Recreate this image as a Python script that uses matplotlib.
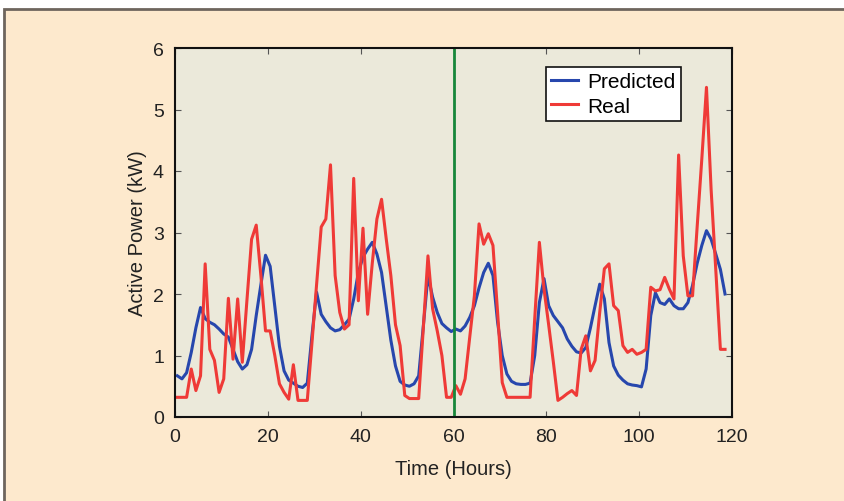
import numpy as np
import matplotlib
matplotlib.use("Agg")
import matplotlib.pyplot as plt
from matplotlib.patches import Rectangle

plt.rcParams["font.family"] = ["Liberation Sans", "DejaVu Sans"]

# hourly readings, first sample at half past hour 0
real = [
    0.32, 0.32, 0.32, 0.78, 0.43, 0.67, 2.49, 1.10, 0.92, 0.40,
    0.62, 1.93, 0.94, 1.92, 0.89, 1.90, 2.89, 3.12, 2.30, 1.40,
    1.40, 1.00, 0.54, 0.40, 0.29, 0.85, 0.27, 0.27, 0.27, 1.20,
    2.15, 3.09, 3.22, 4.10, 2.30, 1.70, 1.43, 1.50, 3.88, 1.89,
    3.07, 1.67, 2.50, 3.22, 3.54, 2.90, 2.30, 1.50, 1.16, 0.35,
    0.30, 0.30, 0.30, 1.45, 2.62, 1.76, 1.40, 1.00, 0.32, 0.32,
    0.51, 0.37, 0.62, 1.30, 1.97, 3.14, 2.81, 2.98, 2.79, 1.70,
    0.56, 0.32, 0.32, 0.32, 0.32, 0.32, 0.32, 1.60, 2.84, 2.08,
    1.50, 0.90, 0.27, 0.32, 0.38, 0.43, 0.35, 1.10, 1.32, 0.75,
    0.92, 1.70, 2.41, 2.49, 1.81, 1.73, 1.16, 1.05, 1.10, 1.02,
    1.05, 1.10, 2.11, 2.05, 2.07, 2.27, 2.08, 1.92, 4.26, 2.62,
    1.97, 1.97, 3.10, 4.20, 5.36, 3.70, 2.40, 1.10, 1.10,
]
predicted = [
    0.67, 0.62, 0.72, 1.05, 1.45, 1.78, 1.60, 1.54, 1.50, 1.43,
    1.35, 1.30, 1.10, 0.90, 0.78, 0.85, 1.10, 1.65, 2.15, 2.63,
    2.45, 1.80, 1.15, 0.75, 0.60, 0.55, 0.50, 0.48, 0.55, 1.32,
    2.03, 1.67, 1.55, 1.45, 1.40, 1.42, 1.50, 1.59, 1.92, 2.35,
    2.60, 2.73, 2.84, 2.65, 2.35, 1.80, 1.25, 0.83, 0.58, 0.52,
    0.50, 0.54, 0.67, 1.48, 2.30, 1.95, 1.70, 1.52, 1.45, 1.39,
    1.43, 1.40, 1.48, 1.62, 1.81, 2.10, 2.35, 2.50, 2.30, 1.54,
    1.00, 0.70, 0.58, 0.54, 0.53, 0.53, 0.55, 1.00, 1.86, 2.25,
    1.81, 1.65, 1.55, 1.45, 1.27, 1.15, 1.06, 1.04, 1.13, 1.45,
    1.81, 2.16, 1.92, 1.21, 0.83, 0.68, 0.60, 0.54, 0.52, 0.51,
    0.49, 0.78, 1.65, 2.02, 1.86, 1.83, 1.92, 1.81, 1.76, 1.76,
    1.86, 2.14, 2.50, 2.79, 3.03, 2.89, 2.65, 2.40, 2.00,
]
hours = np.arange(len(real)) + 0.5
split_hour = 60

fig = plt.figure(figsize=(8.44, 5.02), dpi=100, facecolor="white")
fig.patches.append(Rectangle((4 / 844, -0.1), 1.2, 1.1 - 10 / 502,
                             transform=fig.transFigure, facecolor="#fde9cd",
                             edgecolor="#6e655d", linewidth=2, zorder=-1))

ax = fig.add_axes([175 / 844, 84 / 502, 557 / 844, 369 / 502])
ax.set_facecolor("#ebe9da")

ax.plot(hours, predicted, color="#2747ad", lw=2.2, label="Predicted")
ax.plot(hours, real, color="#ef3a37", lw=2.2, label="Real")
ax.axvline(split_hour, color="#17873a", lw=2)

ax.set_xlim(0, 120)
ax.set_ylim(0, 6)
ax.set_xticks(range(0, 121, 20))
ax.set_yticks(range(0, 7))
ax.tick_params(direction="in", top=True, right=True, length=4,
               color="#555555", labelsize=14, labelcolor="#222222", pad=8)
for s in ax.spines.values():
    s.set_linewidth(1.5)
    s.set_color("#111111")

ax.set_xlabel("Time (Hours)", fontsize=14.5, color="#222222", labelpad=10)
ax.set_ylabel("Active Power (kW)", fontsize=14.5, color="#222222", labelpad=4)

leg = ax.legend(loc="upper right", bbox_to_anchor=(0.908, 0.948), fontsize=15,
                frameon=True, fancybox=False, handlelength=1.3,
                borderpad=0.25, labelspacing=0.25, handletextpad=0.45,
                borderaxespad=0)
leg.get_frame().set_edgecolor("#111111")
leg.get_frame().set_linewidth(1.2)
leg.get_frame().set_facecolor("white")
leg.get_frame().set_alpha(1)

fig.savefig("out.png", dpi=100, facecolor=fig.get_facecolor())
